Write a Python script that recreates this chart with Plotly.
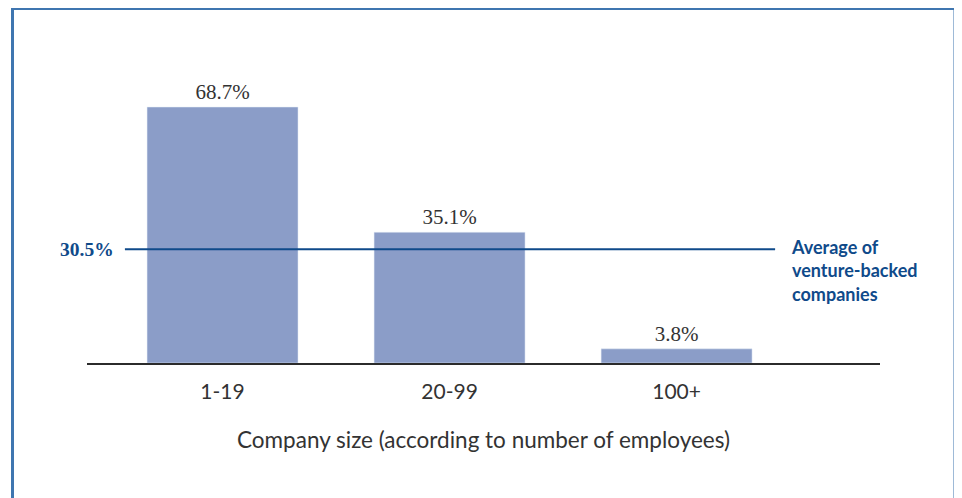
import plotly.graph_objects as go

# chart data
sizes = ["1-19", "20-99", "100+"]
shares = [68.7, 35.1, 3.8]
share_labels = ["68.7%", "35.1%", "3.8%"]
avg_share = 30.5
avg_label = "30.5%"
avg_text = "Average of<br>venture-backed<br>companies"
x_title = "Company size (according to number of employees)"

# page body adds an 8px margin, so the figure is 8px smaller and shifted
OFF = 8
W, H = 962 - OFF, 498 - OFF
M_L, M_R, M_T, M_B = 87 - OFF, 82, 50 - OFF, 135
PW = W - M_L - M_R
PH = H - M_T - M_B


def px_x(p):
    # p given in reference-image pixels
    return (p - OFF - M_L) / PW


def px_y(p):
    return (H - M_B - (p - OFF)) / PH


bar_color = "#8b9dc8"
navy = "#0f4a8a"

fig = go.Figure(go.Bar(
    x=sizes,
    y=shares,
    text=share_labels,
    textposition="outside",
    textfont=dict(family="Liberation Serif", size=21, color="#333333"),
    marker_color=bar_color,
    width=0.665,
    cliponaxis=False,
))

# average line across the bars
fig.add_shape(type="line", xref="x", yref="y",
              x0=-0.43, x1=2.434, y0=avg_share, y1=avg_share,
              line=dict(color=navy, width=2), layer="above")

fig.add_annotation(xref="paper", yref="y", x=px_x(116), y=avg_share,
                   text=avg_label, showarrow=False, xanchor="right",
                   font=dict(family="Liberation Serif", size=19.5, color=navy, weight="bold"))
fig.add_annotation(xref="paper", yref="y", x=px_x(789), y=avg_share,
                   text=avg_text, showarrow=False, xanchor="left", align="left",
                   yanchor="middle", yshift=-21,
                   font=dict(family="Lato", size=18, color=navy, weight="bold"))

# outer frame
fig.add_shape(type="rect", xref="paper", yref="paper",
              x0=px_x(12.5), x1=px_x(955), y0=px_y(530), y1=px_y(8.5),
              line=dict(color="#3f76b0", width=3), layer="below")

fig.update_layout(
    width=W, height=H,
    margin=dict(l=M_L, r=M_R, t=M_T, b=M_B),
    paper_bgcolor="white", plot_bgcolor="white",
    showlegend=False,
    bargap=0.335,
    xaxis=dict(
        range=[-0.597, 2.896],
        showline=True, linecolor="#2b2b2b", linewidth=2,
        showgrid=False, zeroline=False,
        ticks="", ticklabelstandoff=9,
        tickfont=dict(family="Lato", size=21, color="#333333"),
        title=dict(text=x_title, standoff=30,
                   font=dict(family="Lato", size=22.5, color="#333333")),
    ),
    yaxis=dict(range=[0, PH / 3.726], visible=False),
)

fig.write_html("out.html")
